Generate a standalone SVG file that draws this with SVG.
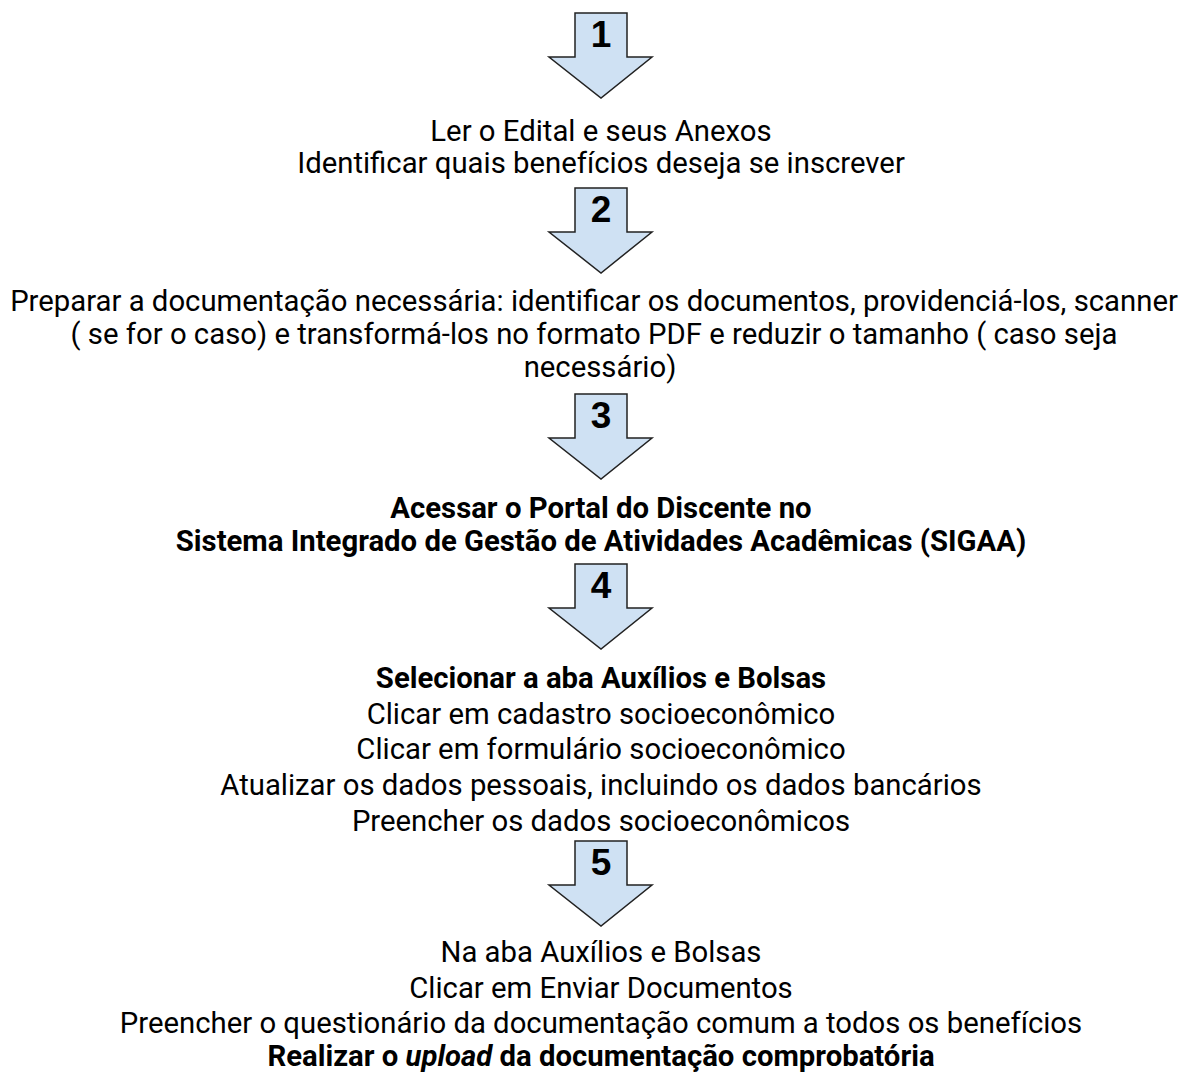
<svg xmlns="http://www.w3.org/2000/svg" width="1187" height="1072" viewBox="0 0 1187 1072">
<defs>
<style>
.t{font-family:Roboto,"Liberation Sans",sans-serif;font-size:29.3px;fill:#000;text-anchor:middle}
.b{font-weight:bold}
.arr{fill:#cfe1f3;stroke:#222;stroke-width:1.5;stroke-linejoin:miter}
.n{font-family:"Liberation Sans",Arial,sans-serif;font-weight:bold;font-size:37px;fill:#000;text-anchor:middle}
</style>
<path id="a" d="M575,0 H627 V44 H652 L601,85 L549,44 H575 Z"/>
</defs>
<rect width="1187" height="1072" fill="#fff"/>
<g id="connectors">
<g id="arrow1" transform="translate(0,13)"><use href="#a" class="arr"/><text class="n" x="601" y="34">1</text></g>
<g id="arrow2" transform="translate(0,188)"><use href="#a" class="arr"/><text class="n" x="601" y="34">2</text></g>
<g id="arrow3" transform="translate(0,394)"><use href="#a" class="arr"/><text class="n" x="601" y="34">3</text></g>
<g id="arrow4" transform="translate(0,564)"><use href="#a" class="arr"/><text class="n" x="601" y="34">4</text></g>
<g id="arrow5" transform="translate(0,841)"><use href="#a" class="arr"/><text class="n" x="601" y="34">5</text></g>
</g>
<g id="step1">
<text class="t" x="601" y="141">Ler o Edital e seus Anexos</text>
<text class="t" x="601" y="173">Identificar quais benefícios deseja se inscrever</text>
</g>
<g id="step2">
<text class="t" x="594" y="311">Preparar a documentação necessária: identificar os documentos, providenciá-los, scanner</text>
<text class="t" x="594" y="344">( se for o caso) e transformá-los no formato PDF e reduzir o tamanho ( caso seja</text>
<text class="t" x="600" y="377">necessário)</text>
</g>
<g id="step3">
<text class="t b" x="601" y="518">Acessar o Portal do Discente no</text>
<text class="t b" x="601" y="551">Sistema Integrado de Gestão de Atividades Acadêmicas (SIGAA)</text>
</g>
<g id="step4">
<text class="t b" x="601" y="688">Selecionar a aba Auxílios e Bolsas</text>
<text class="t" x="601" y="724">Clicar em cadastro socioeconômico</text>
<text class="t" x="601" y="759">Clicar em formulário socioeconômico</text>
<text class="t" x="601" y="795">Atualizar os dados pessoais, incluindo os dados bancários</text>
<text class="t" x="601" y="831">Preencher os dados socioeconômicos</text>
</g>
<g id="step5">
<text class="t" x="601" y="962">Na aba Auxílios e Bolsas</text>
<text class="t" x="601" y="998">Clicar em Enviar Documentos</text>
<text class="t" x="601" y="1033">Preencher o questionário da documentação comum a todos os benefícios</text>
<text class="t b" x="601" y="1066">Realizar o <tspan font-style="italic">upload</tspan> da documentação comprobatória</text>
</g>
</svg>
